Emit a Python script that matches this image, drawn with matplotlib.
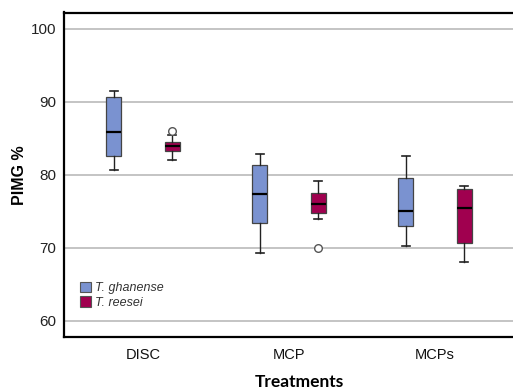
import matplotlib
matplotlib.use("Agg")
import matplotlib.pyplot as plt
from matplotlib.patches import Patch

categories = ["DISC", "MCP", "MCPs"]
series = ["T. ghanense", "T. reesei"]
colors = ["#7a92d0", "#a0004f"]

# per series, per category: [whislo, q1, med, q3, whishi]
ghanense_stats = [
    [80.6, 82.5, 85.8, 90.6, 91.4],
    [69.3, 73.4, 77.4, 81.4, 82.8],
    [70.3, 73.0, 75.0, 79.6, 82.6],
]
reesei_stats = [
    [82.0, 83.3, 83.9, 84.5, 85.4],
    [74.0, 74.8, 76.0, 77.5, 79.1],
    [68.0, 70.6, 75.5, 78.1, 78.5],
]
ghanense_fliers = [[], [], []]
reesei_fliers = [[86.0], [70.0], []]

yticks = [60, 70, 80, 90, 100]

fig = plt.figure(figsize=(5.13, 3.90), dpi=100)
ax = fig.add_axes([63.5/513, 53/390, 1 - 63.5/513, (337 - 12.5)/390])

offsets = [-0.199, 0.199]
allstats = [ghanense_stats, reesei_stats]
allfliers = [ghanense_fliers, reesei_fliers]
for s in range(2):
    bstats = []
    for i in range(len(categories)):
        wl, q1, med, q3, wh = allstats[s][i]
        bstats.append(dict(whislo=wl, q1=q1, med=med, q3=q3, whishi=wh,
                           fliers=allfliers[s][i], label=categories[i]))
    pos = [i + offsets[s] for i in range(len(categories))]
    ax.bxp(bstats, positions=pos, widths=0.103, patch_artist=True,
           showfliers=True, capwidths=0.055,
           boxprops=dict(facecolor=colors[s], edgecolor="#444444", linewidth=0.9),
           medianprops=dict(color="black", linewidth=1.6),
           whiskerprops=dict(color="#222222", linewidth=1.0),
           capprops=dict(color="#222222", linewidth=1.2),
           flierprops=dict(marker="o", markerfacecolor="white",
                           markeredgecolor="#555555", markersize=5.5,
                           markeredgewidth=1.0))

ax.set_xlim(-0.5445, 2.534)
ax.set_ylim(57.8, 102.2)
ax.set_xticks(range(len(categories)))
ax.set_xticklabels(categories, fontfamily="Liberation Sans", fontsize=10.5,
                   color="#111111")
ax.set_yticks(yticks)
ax.set_yticklabels([str(v) for v in yticks], fontfamily="Liberation Sans",
                   fontsize=11, color="#222222")
ax.tick_params(axis="both", length=0)
ax.tick_params(axis="y", pad=5)
ax.tick_params(axis="x", pad=8)
ax.yaxis.grid(True, color="#c4c4c4", linewidth=1.4)
ax.set_axisbelow(True)
for side in ["top", "left", "bottom"]:
    ax.spines[side].set_linewidth(1.6)
    ax.spines[side].set_color("black")
ax.spines["right"].set_visible(False)

ax.set_ylabel("PIMG %", fontfamily="Liberation Sans", fontweight="bold",
              fontsize=11.5, labelpad=3)
fig.text(299/513, 1 - 382/390, "Treatments", fontfamily="Lato",
         fontweight="bold", fontsize=12.5, ha="center", va="center")

handles = [Patch(facecolor=colors[i], edgecolor="#555555", linewidth=0.8)
           for i in range(2)]
leg = ax.legend(handles, series, loc="lower left",
                bbox_to_anchor=(0.017, 0.06), frameon=False,
                prop=dict(family="Liberation Sans", style="italic", size=9),
                handlelength=0.9, handleheight=0.9, handletextpad=0.3,
                labelspacing=0.15, borderaxespad=0.3)
for t in leg.get_texts():
    t.set_color("#333333")

fig.savefig("out.png", dpi=100)
